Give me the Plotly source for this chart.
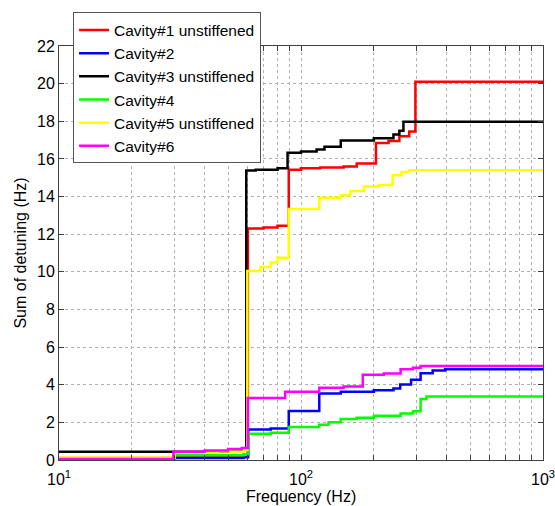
import plotly.graph_objects as go

# ---- data (Hz, cumulative detuning Hz) ----
names = ["Cavity#1 unstiffened", "Cavity#2", "Cavity#3 unstiffened",
         "Cavity#4", "Cavity#5 unstiffened", "Cavity#6"]
colors = ["#ff0000", "#0000ff", "#000000", "#00ff00", "#ffff00", "#ff00ff"]

red_f = [10, 30, 50, 58, 60.3, 70, 80, 89, 100, 120, 150, 170, 204, 230, 255, 280, 297, 1000]
red_v = [0.1, 0.15, 0.2, 0.3, 12.3, 12.35, 12.45, 15.43, 15.5, 15.55, 15.6, 15.75, 16.85, 16.95, 17.2, 17.45, 20.1, 20.1]

blue_f = [10, 30, 58, 60.5, 75, 89, 119, 146, 200, 241, 257, 285, 312, 350, 394, 1000]
blue_v = [0.03, 0.1, 0.15, 1.62, 1.68, 2.61, 3.53, 3.63, 3.7, 3.8, 4.01, 4.27, 4.61, 4.75, 4.82, 4.82]

black_f = [10, 50, 57, 59.4, 65, 80, 88, 100, 116, 125, 146, 200, 241, 255, 265, 1000]
black_v = [0.44, 0.5, 0.6, 15.39, 15.42, 15.5, 16.33, 16.4, 16.5, 16.65, 16.98, 17.1, 17.3, 17.5, 17.98, 18.02]

green_f = [10, 30, 58, 60.5, 75, 89, 119, 130, 146, 170, 200, 258, 290, 312, 330, 1000]
green_v = [0.05, 0.25, 0.3, 1.39, 1.45, 1.76, 1.87, 2.0, 2.18, 2.25, 2.35, 2.47, 2.59, 3.24, 3.38, 3.38]

yellow_f = [10, 30, 45, 58, 60, 68, 75, 80, 89, 119, 146, 160, 182, 210, 239, 260, 280, 1000]
yellow_v = [0.12, 0.4, 0.45, 0.55, 10.05, 10.26, 10.5, 10.75, 13.34, 13.94, 14.07, 14.3, 14.54, 14.62, 15.13, 15.3, 15.4, 15.4]

magenta_f = [10, 29.7, 40, 50, 57, 60.3, 86, 119, 150, 180, 220, 258, 290, 312, 1000]
magenta_v = [0.05, 0.44, 0.5, 0.58, 0.64, 3.3, 3.63, 3.84, 3.9, 4.53, 4.6, 4.82, 4.9, 4.99, 5.0]

series = [(red_f, red_v), (blue_f, blue_v), (black_f, black_v),
          (green_f, green_v), (yellow_f, yellow_v), (magenta_f, magenta_v)]

x_tickvals = [10, 20, 30, 40, 50, 60, 70, 80, 90,
              100, 200, 300, 400, 500, 600, 700, 800, 900, 1000]
x_ticktext = ["10<sup>1</sup>", "", "", "", "", "", "", "", "",
              "10<sup>2</sup>", "", "", "", "", "", "", "", "", "10<sup>3</sup>"]
y_tickvals = list(range(0, 23, 2))

FONT = "Arial, Liberation Sans, sans-serif"

fig = go.Figure()
for (f, v), n, c in zip(series, names, colors):
    fig.add_trace(go.Scatter(x=f, y=v, name=n, mode="lines",
                             line=dict(color=c, width=2.5, shape="hv")))

axis_common = dict(showline=True, linecolor="#404040", linewidth=1, mirror="allticks",
                   ticks="inside", ticklen=5, tickcolor="#404040", automargin=False,
                   ticklabeloverflow="allow",
                   showgrid=True, gridcolor="#b0b0b0", griddash="dot", gridwidth=1,
                   zeroline=False, tickfont=dict(family=FONT, size=16, color="#000"))

fig.update_xaxes(type="log", range=[1, 3], tickvals=x_tickvals, ticktext=x_ticktext,
                 ticklabelstandoff=5, **axis_common)
fig.update_yaxes(range=[0, 22], tickvals=y_tickvals,
                 title=dict(text="Sum of detuning (Hz)", font=dict(family=FONT, size=16, color="#000"),
                            standoff=6),
                 **axis_common)

fig.add_annotation(text="Frequency (Hz)", xref="paper", yref="paper",
                   x=0.5, y=-0.088, xanchor="center", yanchor="middle",
                   showarrow=False, font=dict(family=FONT, size=16, color="#000"))

fig.update_layout(
    width=555, height=506,
    margin=dict(l=59, r=12, t=34, b=46),
    paper_bgcolor="white", plot_bgcolor="white",
    font=dict(family=FONT, size=16, color="#000"),
    showlegend=True,
    legend=dict(x=0.029, y=1.081, xanchor="left", yanchor="top",
                bgcolor="white", bordercolor="#555555", borderwidth=1,
                font=dict(family=FONT, size=15.5, color="#000"),
                tracegroupgap=0, itemwidth=30),
)

fig.write_html("out.html")
